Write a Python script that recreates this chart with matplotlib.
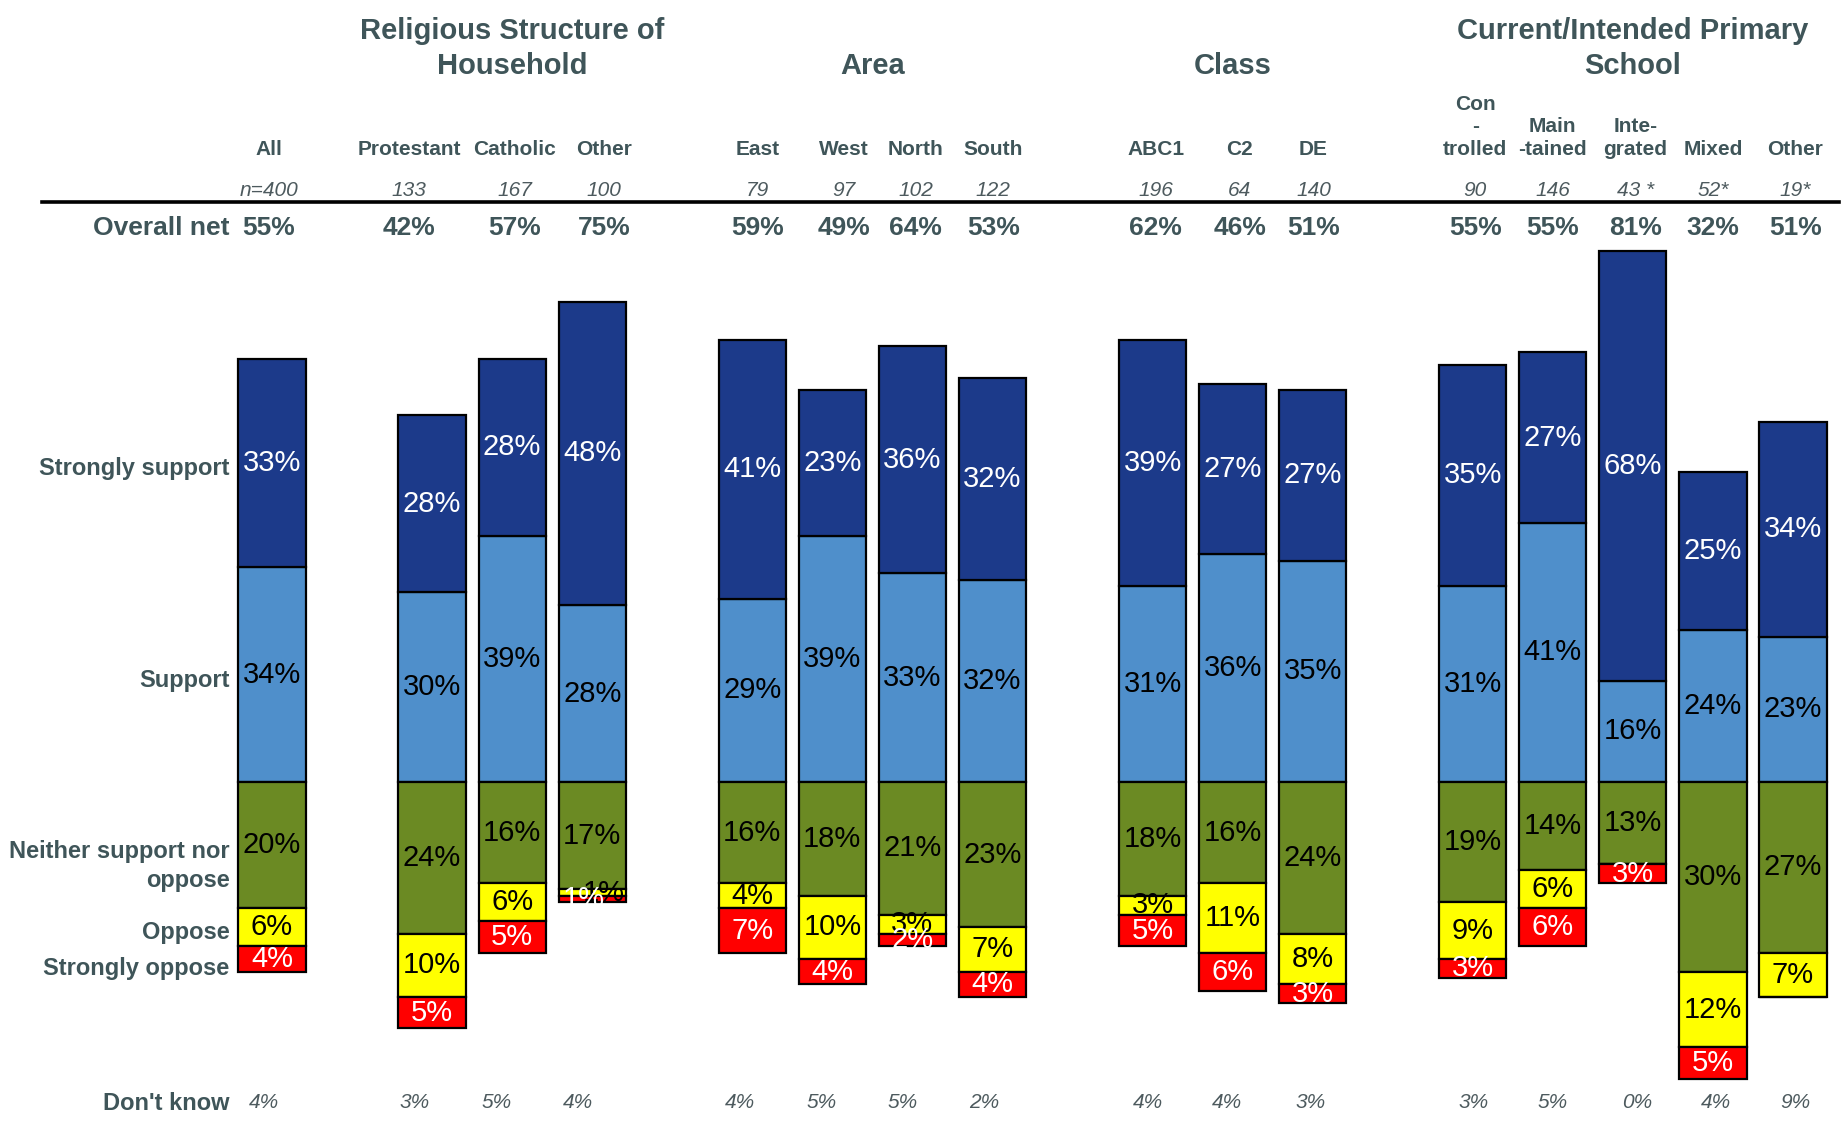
import matplotlib.pyplot as plt

plt.rcParams['font.family'] = ['Liberation Sans', 'DejaVu Sans']

# data
cols = ['All', 'Protestant', 'Catholic', 'Other', 'East', 'West', 'North', 'South',
        'ABC1', 'C2', 'DE', 'Con\n-\ntrolled', 'Main\n-tained', 'Inte-\ngrated', 'Mixed', 'Other']
n_labels = ['n=400', '133', '167', '100', '79', '97', '102', '122',
            '196', '64', '140', '90', '146', '43 *', '52*', '19*']
net = [55, 42, 57, 75, 59, 49, 64, 53, 62, 46, 51, 55, 55, 81, 32, 51]
strongly_support = [33, 28, 28, 48, 41, 23, 36, 32, 39, 27, 27, 35, 27, 68, 25, 34]
support = [34, 30, 39, 28, 29, 39, 33, 32, 31, 36, 35, 31, 41, 16, 24, 23]
neither = [20, 24, 16, 17, 16, 18, 21, 23, 18, 16, 24, 19, 14, 13, 30, 27]
oppose = [6, 10, 6, 1, 4, 10, 3, 7, 3, 11, 8, 9, 6, 0, 12, 7]
strongly_oppose = [4, 5, 5, 1, 7, 4, 2, 4, 5, 6, 3, 3, 6, 3, 5, 0]
dont_know = [4, 3, 5, 4, 4, 5, 5, 2, 4, 4, 3, 3, 5, 0, 4, 9]
groups = ['Religious Structure of\nHousehold', 'Area', 'Class', 'Current/Intended Primary\nSchool']
group_members = [[1, 2, 3], [4, 5, 6, 7], [8, 9, 10], [11, 12, 13, 14, 15]]
row_labels = ['Strongly support', 'Support', 'Neither support nor\noppose', 'Oppose',
              'Strongly oppose', "Don't know"]

# layout: bar slots (one empty slot between groups) and small text nudges
xpos = [0, 2, 3, 4, 6, 7, 8, 9, 11, 12, 13, 15, 16, 17, 18, 19]
head_dx = [-0.04, -0.29, 0.03, 0.15, 0.07, 0.15, 0.04, 0.01,
           0.04, 0.09, 0.01, 0.03, 0.0, 0.03, 0.0, 0.03]
dk_dx = [-0.1, -0.22, -0.2, -0.18, -0.15, -0.13, -0.12, -0.1,
         -0.06, -0.07, -0.03, 0.01, 0.0, 0.06, 0.04, 0.03]

TXT = '#3f5559'
GREY = '#4d5a5e'
C_SS, C_S, C_N, C_O, C_SO = '#1c3a8a', '#4f8fcb', '#6b8a23', '#ffff00', '#ff0000'

W, H = 1845, 1125
fig = plt.figure(figsize=(W / 100, H / 100), dpi=100)
ax = fig.add_axes([0, 0, 1, 1])
BASE_PX, PX_PER = 782, 6.32
ax.set_xlim(-272 / 80.05, (W - 272) / 80.05)
ax.set_ylim(-(H - BASE_PX) / PX_PER, BASE_PX / PX_PER)
ax.axis('off')


def py(px):
    # pixel row from top -> data y
    return (BASE_PX - px) / PX_PER


bw = 0.84
kw = dict(width=bw, edgecolor='black', linewidth=1.6)
ax.bar(xpos, support, color=C_S, **kw)
ax.bar(xpos, strongly_support, bottom=support, color=C_SS, **kw)
ax.bar(xpos, [-v for v in neither], color=C_N, **kw)
opp_bottom = [-v for v in neither]
ax.bar(xpos, [-v for v in oppose], bottom=opp_bottom, color=C_O, **kw)
so_bottom = [-(a + b) for a, b in zip(neither, oppose)]
ax.bar(xpos, [-v for v in strongly_oppose], bottom=so_bottom, color=C_SO, **kw)

fs_in = 21
for i, x in enumerate(xpos):
    tiny = oppose[i] + strongly_oppose[i] <= 2
    segs = [
        (0, support[i], 'black', 0),
        (support[i], strongly_support[i], 'white', 0),
        (0, -neither[i], 'black', 0),
        (-neither[i], -oppose[i], 'black', 0.15 if tiny else 0),
        (-(neither[i] + oppose[i]), -strongly_oppose[i], 'white', -0.1 if tiny else 0),
    ]
    for b, h, c, dx in segs:
        if h == 0:
            continue
        ax.text(x + dx, b + h / 2, f'{abs(h)}%', ha='center', va='center',
                fontsize=fs_in, color=c)
    hx = x + head_dx[i]
    ax.text(hx, py(149 + 10), cols[i], ha='center', va='bottom', fontsize=15,
            fontweight='bold', color=TXT, linespacing=1.25)
    ax.text(hx, py(191), n_labels[i], ha='center', va='center', fontsize=15,
            style='italic', color=GREY)
    ax.text(hx, py(228), f'{net[i]}%', ha='center', va='center', fontsize=19,
            fontweight='bold', color=TXT)
    ax.text(x + dk_dx[i], py(1103), f'{dont_know[i]}%', ha='center', va='center',
            fontsize=15, style='italic', color=GREY)

for g, members in zip(groups, group_members):
    xc = (xpos[members[0]] + xpos[members[-1]]) / 2
    ax.text(xc, py(65 + 15), g, ha='center', va='bottom', fontsize=21,
            fontweight='bold', color=TXT, linespacing=1.3)

ax.plot([-2.87, 19.58], [py(202), py(202)], color='black', lw=2.6, clip_on=False)

lx = -0.53
ax.text(lx, py(228), 'Overall net', ha='right', va='center', fontsize=19,
        fontweight='bold', color=TXT)
for lab, ypx in zip(row_labels, [468, 680, 866, 932, 968, 1103]):
    ax.text(lx, py(ypx), lab, ha='right', va='center', fontsize=17,
            fontweight='bold', color=TXT, linespacing=1.3)

fig.savefig('out.png', dpi=100)
